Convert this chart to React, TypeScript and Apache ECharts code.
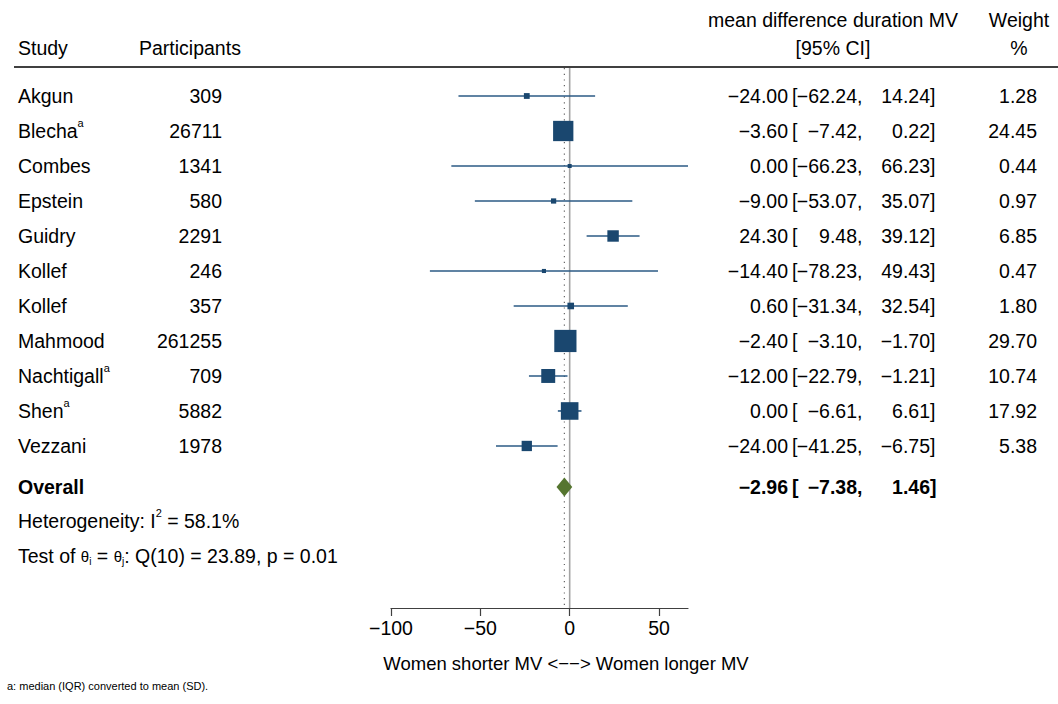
import React, { useEffect, useRef } from "react";
import * as echarts from "echarts";

// Study-level results: mean difference in duration of mechanical ventilation (women vs men)
const studies = ["Akgun", "Blecha", "Combes", "Epstein", "Guidry", "Kollef", "Kollef", "Mahmood", "Nachtigall", "Shen", "Vezzani"];
const convertedFromMedian = [false, true, false, false, false, false, false, false, true, true, false];
const participants = [309, 26711, 1341, 580, 2291, 246, 357, 261255, 709, 5882, 1978];
const meanDiff = [-24.0, -3.6, 0.0, -9.0, 24.3, -14.4, 0.6, -2.4, -12.0, 0.0, -24.0];
const ciLow = [-62.24, -7.42, -66.23, -53.07, 9.48, -78.23, -31.34, -3.1, -22.79, -6.61, -41.25];
const ciHigh = [14.24, 0.22, 66.23, 35.07, 39.12, 49.43, 32.54, -1.7, -1.21, 6.61, -6.75];
const weights = [1.28, 24.45, 0.44, 0.97, 6.85, 0.47, 1.8, 29.7, 10.74, 17.92, 5.38];

// Pooled estimate
const overallEst = -2.96;
const overallLow = -7.38;
const overallHigh = 1.46;
const heterogeneityI2 = "58.1%";
const qText = "Q(10) = 23.89, p = 0.01";

// Axis
const xTicks = [-100, -50, 0, 50];
const xMin = -100;
const xMax = 66.23;

const FONT = "'Liberation Sans', Arial, Helvetica, sans-serif";
const FS = 19.5;
const NAVY = "#1a476f";
const CI_COLOR = "#2b5a85";
const OLIVE = "#55752f";

// row positions on the (inverted) y value axis
const Y_MIN = -0.8;
const Y_MAX = 14.63;
const OVERALL_ROW = 11.17;
const HET_ROW = 12.14;
const TEST_ROW = 13.14;

const measureCtx = document.createElement("canvas").getContext("2d") as CanvasRenderingContext2D;
function measure(t: string, size: number, bold = false) {
  measureCtx.font = `${bold ? "bold " : ""}${size}px ${FONT}`;
  return measureCtx.measureText(t).width;
}

const minus = (s: string) => s.replace(/-/g, "\u2212");
const fmt = (v: number) => minus(v.toFixed(2));

function txt(x: number, y: number, text: string, align = "left", size = FS, bold = false, fill = "#000") {
  return {
    type: "text",
    x,
    y,
    style: {
      text,
      font: `${bold ? "bold " : ""}${size}px ${FONT}`,
      fill,
      align,
      textAlign: align,
      verticalAlign: "middle",
      textVerticalAlign: "middle",
    },
  };
}

type Seg = { t: string; size?: number; dy?: number; bold?: boolean };
function runs(x: number, y: number, segs: Seg[]) {
  const out: any[] = [];
  let cx = x;
  for (const s of segs) {
    const size = s.size ?? FS;
    out.push(txt(cx, y + (s.dy ?? 0), s.t, "left", size, !!s.bold));
    cx += measure(s.t, size, !!s.bold);
  }
  return out;
}

function effectCells(y: number, est: number, lo: number, hi: number, bold: boolean) {
  return [
    txt(788, y, fmt(est), "right", FS, bold),
    txt(792, y, "[", "left", FS, bold),
    txt(857, y, fmt(lo), "right", FS, bold),
    txt(857, y, ",", "left", FS, bold),
    txt(930, y, fmt(hi), "right", FS, bold),
    txt(930, y, "]", "left", FS, bold),
  ];
}

export default function App() {
  const ref = useRef<HTMLDivElement>(null);

  useEffect(() => {
    if (!ref.current) return;
    const chart = echarts.init(ref.current, null, { renderer: "svg" });

    const forestData = studies.map((_, i) => [i, meanDiff[i], ciLow[i], ciHigh[i], weights[i]]);
    const textData = studies.map((_, i) => [i]);

    const option: any = {
      animation: false,
      backgroundColor: "#fff",
      grid: { left: 391, right: 370, top: 68, bottom: 96 },
      xAxis: {
        type: "value",
        min: xMin,
        max: xMax,
        interval: 50,
        splitLine: { show: false },
        axisLine: { show: true, onZero: false, lineStyle: { color: "#404040", width: 1.2 } },
        axisTick: { show: true, length: 8, customValues: xTicks, lineStyle: { color: "#404040", width: 1.2 } },
        axisLabel: {
          customValues: xTicks,
          formatter: (v: number) => minus(String(v)),
          fontSize: FS,
          fontFamily: FONT,
          color: "#000",
          margin: 10,
        },
      },
      yAxis: {
        type: "value",
        inverse: true,
        min: Y_MIN,
        max: Y_MAX,
        show: false,
        splitLine: { show: false },
      },
      series: [
        {
          type: "line",
          data: [[0, Y_MIN], [0, Y_MAX]],
          symbol: "none",
          lineStyle: { color: "#a3a3a3", width: 1.6 },
          z: 1,
        },
        {
          type: "line",
          data: [[overallEst, Y_MIN], [overallEst, Y_MAX]],
          symbol: "none",
          lineStyle: { color: "#666", width: 1.2, type: [1.2, 4.5] },
          z: 1,
        },
        {
          type: "custom",
          data: forestData,
          encode: { x: [1, 2, 3], y: 0 },
          z: 3,
          renderItem: (_p: any, api: any) => {
            const row = api.value(0);
            const [xm, y] = api.coord([api.value(1), row]);
            const xl = api.coord([api.value(2), row])[0];
            const xh = api.coord([api.value(3), row])[0];
            // marker area grows with the study weight
            const side = 1.5 + 3.8 * Math.sqrt(api.value(4));
            return {
              type: "group",
              children: [
                { type: "line", shape: { x1: xl, y1: y, x2: xh, y2: y }, style: { stroke: CI_COLOR, lineWidth: 1.6 } },
                { type: "rect", shape: { x: xm - side / 2, y: y - side / 2, width: side, height: side }, style: { fill: NAVY } },
              ],
            };
          },
        },
        {
          type: "custom",
          data: [[OVERALL_ROW, overallEst, overallLow, overallHigh]],
          encode: { x: [1, 2, 3], y: 0 },
          z: 3,
          renderItem: (_p: any, api: any) => {
            const row = api.value(0);
            const [xm, y] = api.coord([api.value(1), row]);
            const xl = api.coord([api.value(2), row])[0];
            const xh = api.coord([api.value(3), row])[0];
            const h = 9.5;
            return {
              type: "polygon",
              shape: { points: [[xl, y], [xm, y - h], [xh, y], [xm, y + h]] },
              style: { fill: OLIVE },
            };
          },
        },
        {
          type: "custom",
          data: textData,
          encode: { y: 0 },
          z: 4,
          renderItem: (_p: any, api: any) => {
            const i = api.value(0);
            const y = api.coord([0, i])[1];
            const name = studies[i];
            const children: any[] = [txt(18, y, name)];
            if (convertedFromMedian[i]) {
              children.push(txt(18 + measure(name, FS), y - 8, "a", "left", 11));
            }
            children.push(txt(222, y, String(participants[i]), "right"));
            children.push(...effectCells(y, meanDiff[i], ciLow[i], ciHigh[i], false));
            children.push(txt(1037, y, weights[i].toFixed(2), "right"));
            return { type: "group", children };
          },
        },
        {
          type: "custom",
          data: [[OVERALL_ROW, HET_ROW, TEST_ROW]],
          encode: { y: [0, 1, 2] },
          z: 4,
          renderItem: (_p: any, api: any) => {
            const yo = api.coord([0, api.value(0)])[1];
            const yh = api.coord([0, api.value(1)])[1];
            const yt = api.coord([0, api.value(2)])[1];
            const children: any[] = [txt(18, yo, "Overall", "left", FS, true)];
            children.push(...effectCells(yo, overallEst, overallLow, overallHigh, true));
            children.push(
              ...runs(18, yh, [
                { t: "Heterogeneity: I" },
                { t: "2", size: 11, dy: -8 },
                { t: " = " + heterogeneityI2 },
              ])
            );
            children.push(
              ...runs(18, yt, [
                { t: "Test of " },
                { t: "\u03b8", size: 15, dy: 1 },
                { t: "i", size: 10, dy: 6 },
                { t: " = " },
                { t: "\u03b8", size: 15, dy: 1 },
                { t: "j", size: 10, dy: 6 },
                { t: ": " + qText },
              ])
            );
            return { type: "group", children };
          },
        },
      ],
      graphic: [
        txt(18, 48, "Study"),
        txt(139, 48, "Participants"),
        txt(833, 20, "mean difference duration MV", "center"),
        txt(833, 48, "[95% CI]", "center"),
        txt(1019, 20, "Weight", "center"),
        txt(1019, 48, "%", "center"),
        { type: "line", shape: { x1: 14, y1: 67, x2: 1058, y2: 67 }, style: { stroke: "#000", lineWidth: 1.6 } },
        txt(566, 663, "Women shorter MV <\u2212\u2212> Women longer MV", "center", 18.5),
        txt(7, 686, "a: median (IQR) converted to mean (SD).", "left", 11),
      ],
    };

    chart.setOption(option);
    return () => chart.dispose();
  }, []);

  return (
    <div
      ref={ref}
      style={{ position: "fixed", left: 0, top: 0, width: 1058, height: 704, background: "#fff" }}
    />
  );
}
